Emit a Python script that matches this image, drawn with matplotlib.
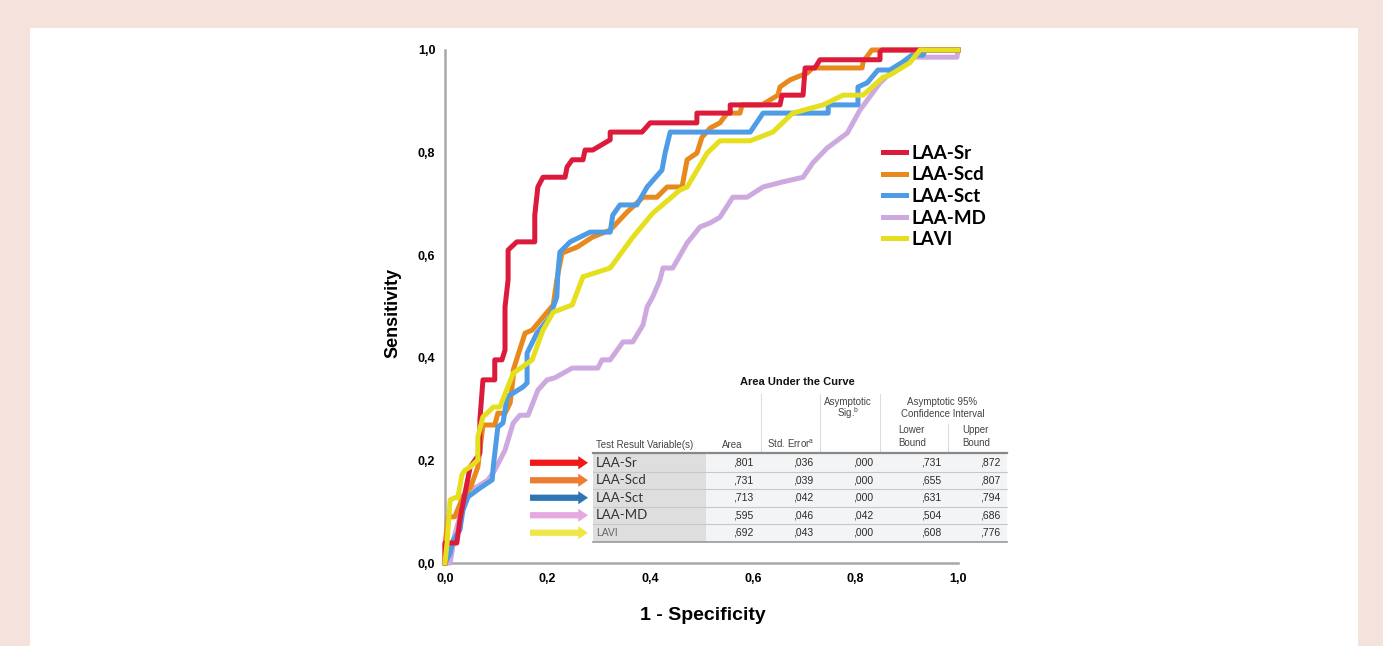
import matplotlib
matplotlib.use('Agg')
import matplotlib.pyplot as plt
from matplotlib.patches import Rectangle
from matplotlib.lines import Line2D

W, H = 1383, 646

# ROC curve points (1 - specificity, sensitivity)
sr = [(0, 0), (0, 0.039), (0.023, 0.039), (0.03, 0.09), (0.049, 0.187), (0.068, 0.214),
      (0.068, 0.279), (0.074, 0.357), (0.097, 0.357), (0.097, 0.396), (0.111, 0.396),
      (0.117, 0.415), (0.117, 0.499), (0.123, 0.552), (0.123, 0.610), (0.140, 0.626),
      (0.175, 0.626), (0.175, 0.678), (0.181, 0.733), (0.191, 0.752), (0.234, 0.752),
      (0.238, 0.772), (0.248, 0.786), (0.269, 0.786), (0.273, 0.805), (0.288, 0.805),
      (0.322, 0.825), (0.322, 0.840), (0.384, 0.840), (0.400, 0.858), (0.491, 0.858),
      (0.491, 0.877), (0.556, 0.877), (0.556, 0.893), (0.653, 0.893), (0.657, 0.912),
      (0.698, 0.912), (0.702, 0.965), (0.721, 0.965), (0.731, 0.981), (0.848, 0.981),
      (0.848, 0.996), (0.852, 1.0), (1.0, 1.0)]
scd = [(0, 0), (0, 0.035), (0.006, 0.090), (0.019, 0.090), (0.035, 0.129), (0.049, 0.146),
       (0.055, 0.162), (0.064, 0.187), (0.072, 0.253), (0.074, 0.269), (0.097, 0.269),
       (0.103, 0.292), (0.117, 0.292), (0.127, 0.312), (0.133, 0.363), (0.133, 0.376),
       (0.156, 0.448), (0.170, 0.454), (0.211, 0.503), (0.218, 0.552), (0.228, 0.604),
       (0.258, 0.616), (0.287, 0.635), (0.322, 0.649), (0.355, 0.684), (0.386, 0.713),
       (0.413, 0.713), (0.433, 0.733), (0.462, 0.733), (0.472, 0.786), (0.491, 0.799),
       (0.501, 0.830), (0.517, 0.848), (0.536, 0.858), (0.550, 0.877), (0.575, 0.877),
       (0.579, 0.893), (0.618, 0.893), (0.649, 0.912), (0.653, 0.928), (0.673, 0.942),
       (0.706, 0.955), (0.717, 0.965), (0.813, 0.965), (0.815, 0.977), (0.832, 1.0),
       (1.0, 1.0)]
sct = [(0, 0), (0.010, 0.019), (0.016, 0.045), (0.029, 0.064), (0.035, 0.103),
       (0.045, 0.129), (0.068, 0.146), (0.092, 0.162), (0.094, 0.187), (0.103, 0.265),
       (0.113, 0.273), (0.117, 0.298), (0.121, 0.324), (0.152, 0.343), (0.160, 0.351),
       (0.160, 0.409), (0.179, 0.448), (0.205, 0.480), (0.211, 0.499), (0.218, 0.519),
       (0.220, 0.565), (0.224, 0.606), (0.244, 0.626), (0.283, 0.645), (0.322, 0.645),
       (0.327, 0.678), (0.341, 0.698), (0.374, 0.698), (0.394, 0.733), (0.423, 0.766),
       (0.429, 0.799), (0.439, 0.840), (0.595, 0.840), (0.620, 0.877), (0.747, 0.877),
       (0.747, 0.893), (0.805, 0.893), (0.805, 0.928), (0.823, 0.936), (0.844, 0.961),
       (0.867, 0.961), (0.893, 0.977), (0.910, 0.990), (0.932, 0.990), (0.936, 1.0),
       (1.0, 1.0)]
md = [(0, 0), (0.010, 0), (0.019, 0.055), (0.029, 0.090), (0.033, 0.129), (0.049, 0.146),
      (0.062, 0.148), (0.084, 0.162), (0.097, 0.181), (0.117, 0.220), (0.127, 0.253),
      (0.133, 0.273), (0.146, 0.288), (0.162, 0.288), (0.181, 0.337), (0.199, 0.357),
      (0.214, 0.361), (0.248, 0.380), (0.298, 0.380), (0.306, 0.396), (0.322, 0.396),
      (0.347, 0.431), (0.366, 0.431), (0.386, 0.464), (0.394, 0.499), (0.405, 0.519),
      (0.419, 0.552), (0.425, 0.575), (0.444, 0.575), (0.472, 0.624), (0.497, 0.655),
      (0.517, 0.663), (0.536, 0.674), (0.561, 0.713), (0.589, 0.713), (0.620, 0.733),
      (0.659, 0.743), (0.698, 0.752), (0.717, 0.780), (0.745, 0.809), (0.784, 0.838),
      (0.809, 0.883), (0.848, 0.936), (0.881, 0.967), (0.912, 0.986), (0.998, 0.986),
      (1.0, 1.0)]
lavi = [(0, 0), (0.004, 0.039), (0.010, 0.123), (0.019, 0.127), (0.025, 0.127),
        (0.033, 0.172), (0.039, 0.181), (0.049, 0.187), (0.064, 0.201), (0.064, 0.246),
        (0.074, 0.285), (0.084, 0.294), (0.094, 0.304), (0.107, 0.304), (0.133, 0.370),
        (0.170, 0.396), (0.191, 0.454), (0.211, 0.489), (0.248, 0.503), (0.269, 0.558),
        (0.322, 0.575), (0.366, 0.635), (0.405, 0.682), (0.458, 0.727), (0.472, 0.733),
        (0.511, 0.799), (0.536, 0.823), (0.595, 0.823), (0.639, 0.840), (0.678, 0.877),
        (0.737, 0.893), (0.776, 0.912), (0.815, 0.912), (0.854, 0.947), (0.867, 0.951),
        (0.906, 0.975), (0.926, 1.0), (1.0, 1.0)]

names = ['LAA-Sr', 'LAA-Scd', 'LAA-Sct', 'LAA-MD', 'LAVI']
curves = [sr, scd, sct, md, lavi]
colors = ['#dc1a3c', '#e8891e', '#4f9ce6', '#cda9e0', '#e6df1d']
arrow_colors = ['#f01818', '#ed7d31', '#2e75b6', '#e6a8e0', '#f0e64a']

# AUC table
area = [',801', ',731', ',713', ',595', ',692']
std_err = [',036', ',039', ',042', ',046', ',043']
sig = [',000', ',000', ',000', ',042', ',000']
lower = [',731', ',655', ',631', ',504', ',608']
upper = [',872', ',807', ',794', ',686', ',776']

ticks = [0, 0.2, 0.4, 0.6, 0.8, 1.0]
tick_labels = ['0,0', '0,2', '0,4', '0,6', '0,8', '1,0']


def fx(px):
    return px / W


def fy(py):
    return 1 - py / H


plt.rcParams['font.family'] = ['Liberation Sans', 'DejaVu Sans']

fig = plt.figure(figsize=(W / 100, H / 100), dpi=100, facecolor='#f5e2dc')
fig.add_artist(Rectangle((fx(30), 0), fx(1358) - fx(30), fy(28),
                         transform=fig.transFigure, facecolor='white',
                         edgecolor='none', zorder=-5))

ax = fig.add_axes([fx(445), fy(563), (958 - 445) / W, (563 - 50) / H])
ax.set_facecolor('none')
ax.set_xlim(0, 1)
ax.set_ylim(0, 1)
for s in ['top', 'right']:
    ax.spines[s].set_visible(False)
for s in ['left', 'bottom']:
    ax.spines[s].set_color('#a8a8a8')
    ax.spines[s].set_linewidth(1.8)
ax.set_xticks(ticks)
ax.set_xticklabels(tick_labels, fontweight='bold', fontsize=9)
ax.set_yticks(ticks)
ax.set_yticklabels(tick_labels, fontweight='bold', fontsize=9)
ax.tick_params(length=0, pad=7)

order = [3, 1, 2, 0, 4]
for i in order:
    xs = [p[0] for p in curves[i]]
    ys = [p[1] for p in curves[i]]
    ax.plot(xs, ys, color=colors[i], lw=3.6, clip_on=False, zorder=3 + order.index(i))

fig.text(fx(393), fy(313), 'Sensitivity', rotation=90, ha='center', va='center',
         fontsize=13, fontweight='bold')
fig.text(fx(703), fy(615), '1 - Specificity', ha='center', va='center',
         fontsize=14, fontweight='bold')

handles = [Line2D([0], [0], color=c, lw=3.6) for c in colors]
fig.legend(handles, names, loc='upper left', bbox_to_anchor=(fx(883), fy(145)),
           frameon=False, handlelength=1.2, handletextpad=0.3, labelspacing=0.24,
           borderaxespad=0, borderpad=0,
           prop={'family': 'Lato', 'weight': 'bold', 'size': 13.5})

# ---- AUC table ----
tcol = '#2a2a2a'
hcol = '#444444'
fig.text(fx(797), fy(382), 'Area Under the Curve', ha='center', va='center',
         fontsize=8, fontweight='bold', color='#111111')
fig.text(fx(848), fy(402), 'Asymptotic', ha='center', va='center', fontsize=7, color=hcol)
fig.text(fx(848), fy(413), 'Sig.$^{\\mathregular{b}}$', ha='center', va='center', fontsize=7, color=hcol)
fig.text(fx(942), fy(402), 'Asymptotic 95%', ha='center', va='center', fontsize=7, color=hcol)
fig.text(fx(943), fy(414), 'Confidence Interval', ha='center', va='center', fontsize=7, color=hcol)
fig.text(fx(898), fy(430), 'Lower', ha='left', va='center', fontsize=7, color=hcol)
fig.text(fx(898), fy(443), 'Bound', ha='left', va='center', fontsize=7, color=hcol)
fig.text(fx(962), fy(430), 'Upper', ha='left', va='center', fontsize=7, color=hcol)
fig.text(fx(962), fy(443), 'Bound', ha='left', va='center', fontsize=7, color=hcol)
fig.text(fx(596), fy(445), 'Test Result Variable(s)', ha='left', va='center', fontsize=7, color=hcol)
fig.text(fx(722), fy(445), 'Area', ha='left', va='center', fontsize=7, color=hcol)
fig.text(fx(767), fy(444), 'Std. Error$^{\\mathregular{a}}$', ha='left', va='center', fontsize=7, color=hcol)

# header separators
for px in [761, 820, 880]:
    fig.add_artist(Line2D([fx(px), fx(px)], [fy(394), fy(452)], transform=fig.transFigure,
                          color='#dddddd', lw=0.8))
fig.add_artist(Line2D([fx(948), fx(948)], [fy(424), fy(452)], transform=fig.transFigure,
                      color='#dddddd', lw=0.8))

row_top = 454
row_h = 17.5
fig.add_artist(Rectangle((fx(593), fy(row_top + 5 * row_h)), fx(706) - fx(593), 5 * row_h / H,
                         transform=fig.transFigure, facecolor='#dedede', edgecolor='none'))
fig.add_artist(Rectangle((fx(706), fy(row_top + 5 * row_h)), fx(1007) - fx(706), 5 * row_h / H,
                         transform=fig.transFigure, facecolor='#f3f4f6', edgecolor='none'))
for k in range(1, 5):
    yy = fy(row_top + k * row_h)
    fig.add_artist(Line2D([fx(593), fx(1007)], [yy, yy], transform=fig.transFigure,
                          color='#c8c8c8', lw=0.8))
fig.add_artist(Line2D([fx(593), fx(1007)], [fy(row_top - 1), fy(row_top - 1)],
                      transform=fig.transFigure, color='#888888', lw=1.6))
fig.add_artist(Line2D([fx(593), fx(1007)], [fy(row_top + 5 * row_h), fy(row_top + 5 * row_h)],
                      transform=fig.transFigure, color='#999999', lw=1.2))

cols = [(753, area), (813, std_err), (873, sig), (941, lower), (1000, upper)]
for r in range(5):
    yc = fy(row_top + (r + 0.5) * row_h)
    if names[r] == 'LAVI':
        fig.text(fx(596), yc, names[r], ha='left', va='center', fontsize=7.5, color='#666666')
    else:
        fig.text(fx(596), yc, names[r], ha='left', va='center', fontsize=9.5,
                 family='Lato', color='#333333')
    for px, vals in cols:
        fig.text(fx(px), yc, vals[r], ha='right', va='center', fontsize=7.5, color=tcol)
    ax.annotate('', xy=(588, H - (row_top + (r + 0.5) * row_h)), xycoords='figure pixels',
                xytext=(530, H - (row_top + (r + 0.5) * row_h)), textcoords='figure pixels',
                arrowprops=dict(arrowstyle='simple,head_length=0.7,head_width=0.95,tail_width=0.45',
                                mutation_scale=10, color=arrow_colors[r], lw=0,
                                shrinkA=0, shrinkB=0),
                annotation_clip=False)

fig.savefig('out.png', dpi=100, facecolor=fig.get_facecolor())
